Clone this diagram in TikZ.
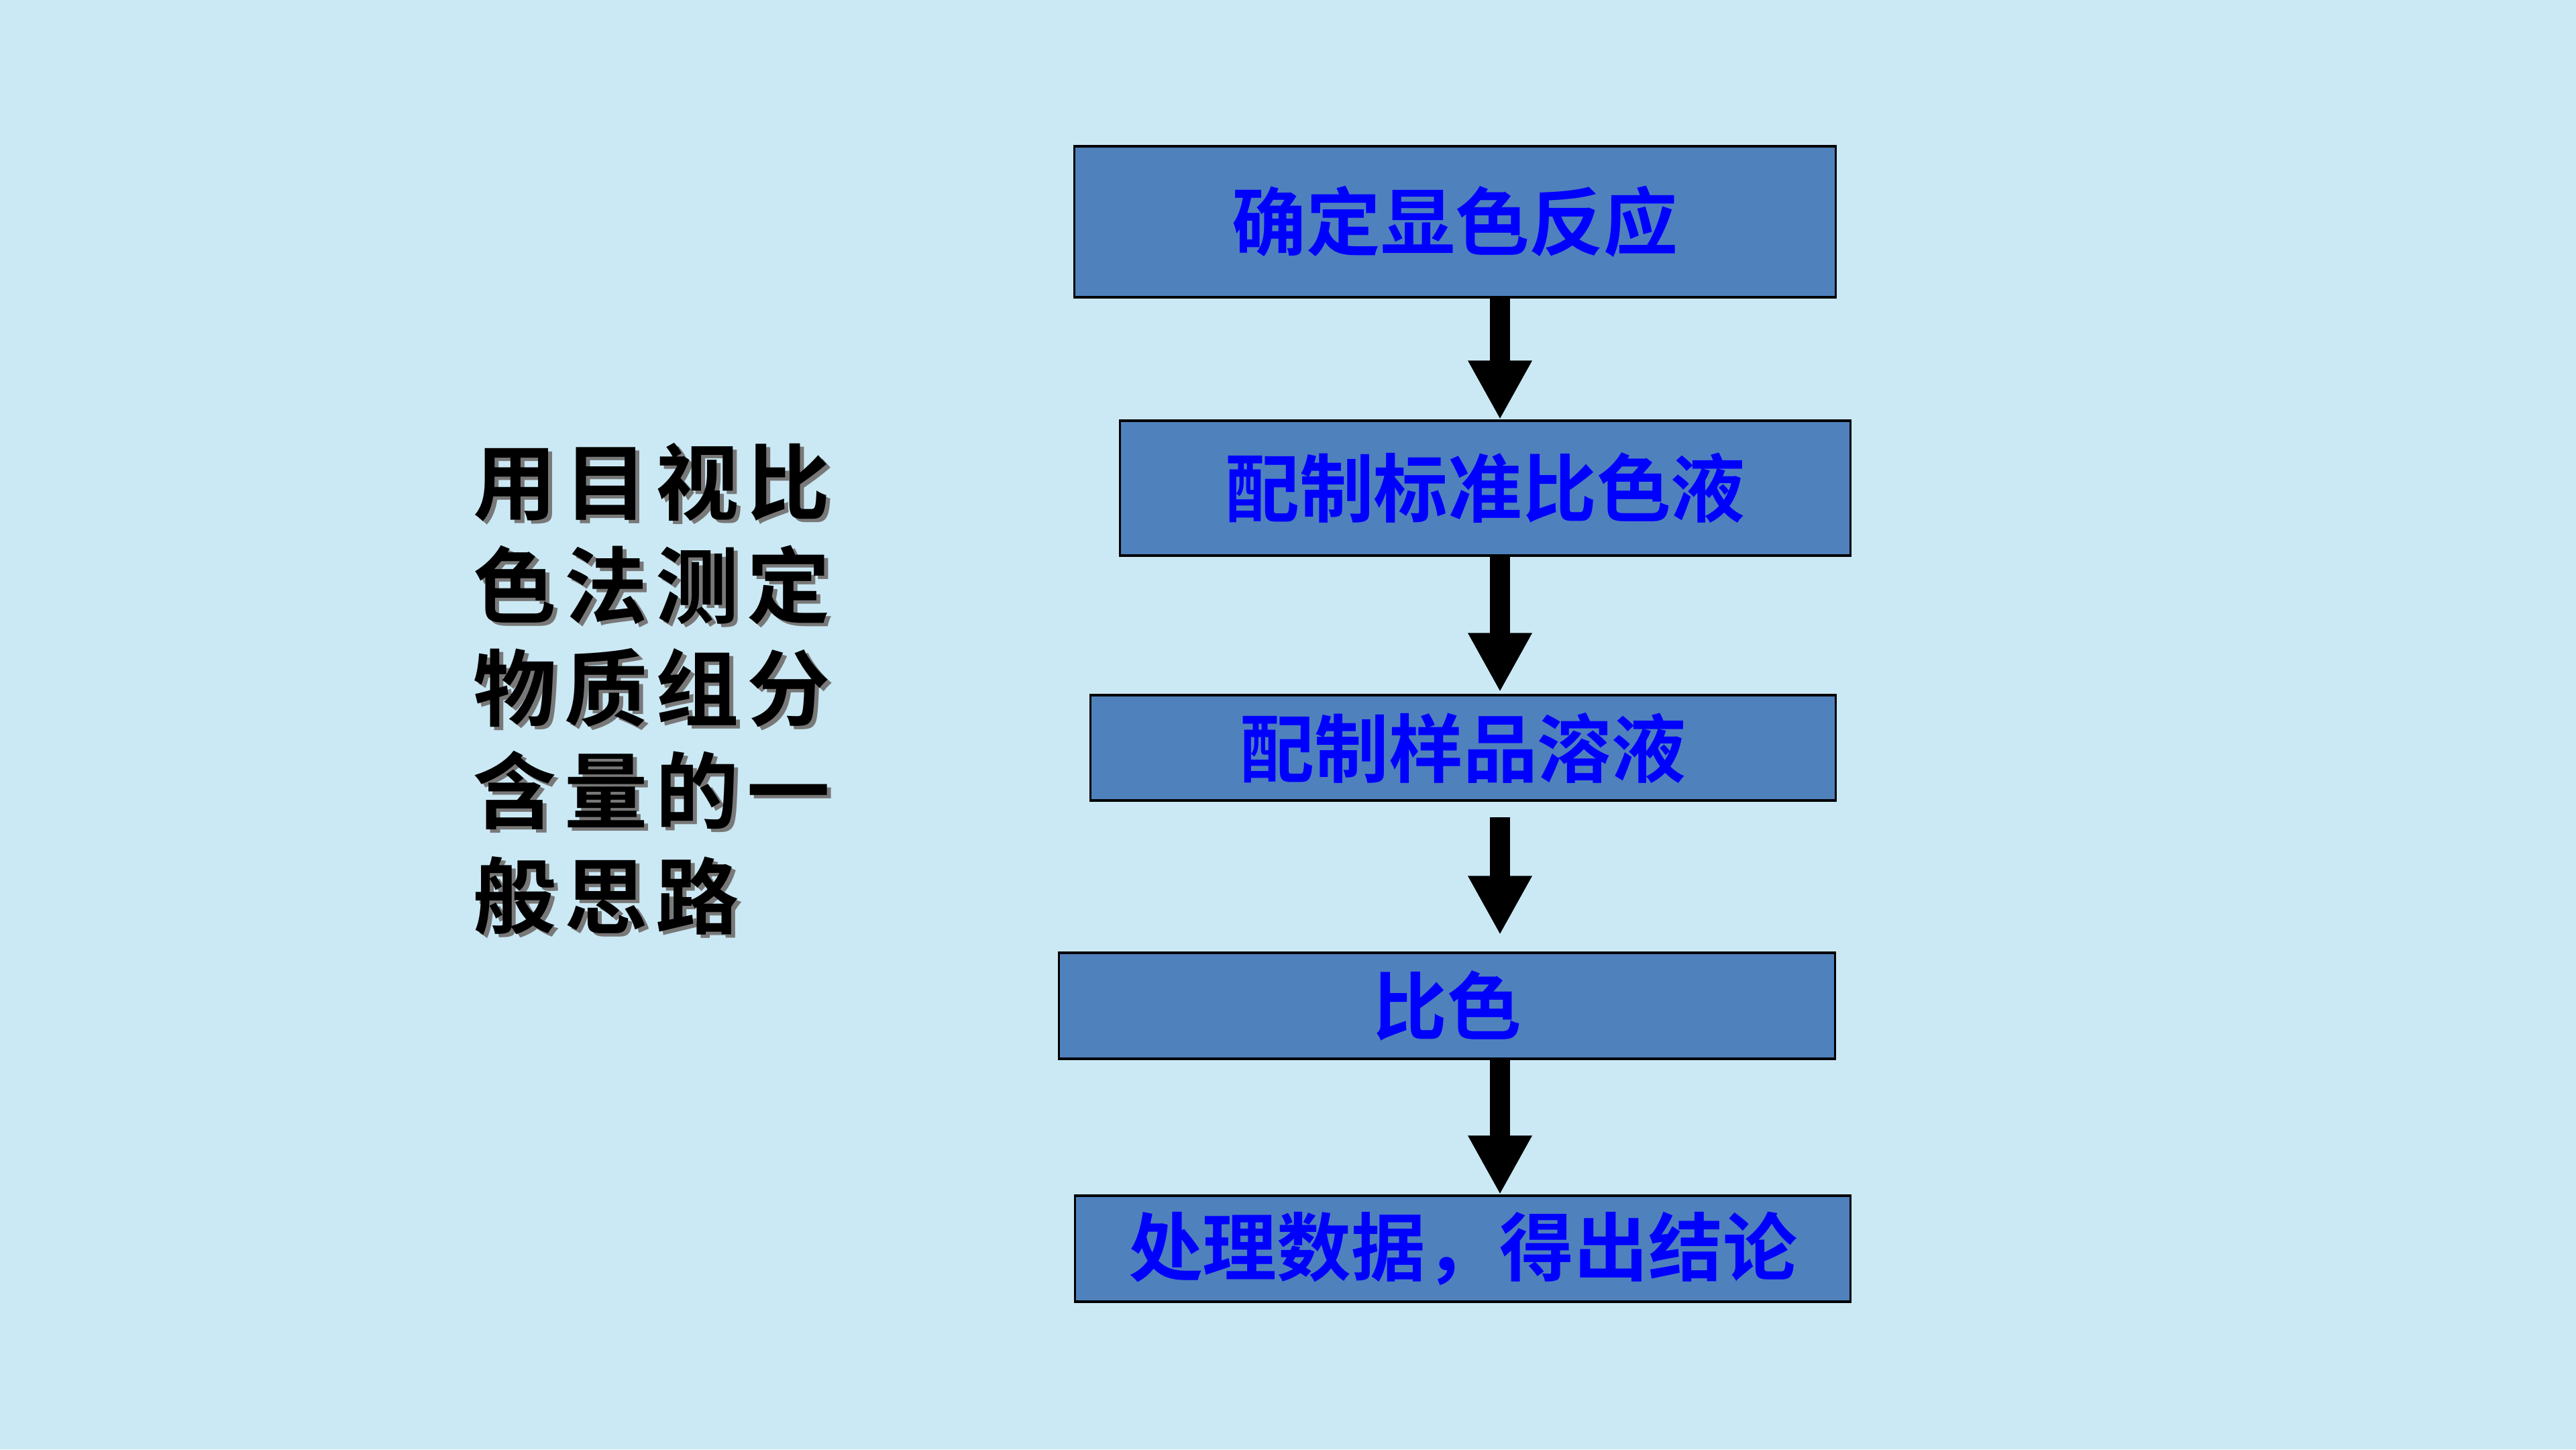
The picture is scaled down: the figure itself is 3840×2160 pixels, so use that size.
\documentclass[tikz,border=0pt]{standalone}
\usepackage{fontspec}
\usetikzlibrary{arrows.meta,calc}
\newfontfamily\cjkbold[BoldFont={* Bold}]{Noto Sans CJK SC}
\definecolor{bgblue}{RGB}{203,233,244}
\definecolor{boxblue}{RGB}{79,129,189}
\definecolor{txtblue}{RGB}{0,0,255}
\definecolor{shadowgrey}{RGB}{120,120,120}
\newcommand{\cjkgap}{\kern 3.4pt}
\tikzset{
  stepbox/.style={draw=black, line width=0.9pt, fill=boxblue, inner sep=0pt,
    text=txtblue, font=\cjkbold\bfseries\fontsize{31.5pt}{36pt}\selectfont},
  flowarrow/.style={line width=8.5pt, -{Triangle[width=25.3pt,length=25pt]}},
  lefttext/.style={anchor=west, inner sep=0pt, text=black,
    font=\cjkbold\bfseries\fontsize{35.3pt}{40pt}\selectfont},
  leftshadow/.style={lefttext, text=shadowgrey}
}
\begin{document}
\begin{tikzpicture}[x=0.01cm,y=-0.01cm]
\fill[bgblue] (0,0) rectangle (3840,2160);
\useasboundingbox (0,0) rectangle (3840,2160);

% flow boxes
\node[stepbox, minimum width=11.34cm, minimum height=2.25cm] (b1) at (2169,330.5) {确定显色反应};
\node[stepbox, minimum width=10.88cm, minimum height=2.01cm] (b2) at (2214,727.5) {配制标准比色液};
\node[stepbox, minimum width=11.10cm, minimum height=1.57cm] (b3) at (2181,1114.5) {配制样品溶液};
\node[stepbox, minimum width=11.56cm, minimum height=1.58cm] (b4) at (2157,1499) {比色};
\node[stepbox, minimum width=11.55cm, minimum height=1.58cm] (b5) at (2180.5,1861) {处理数据，得出结论};

% arrows
\coordinate (ax) at (2236,0);
\draw[flowarrow] (b1.south -| ax) -- (b2.north -| ax);
\draw[flowarrow] (b2.south -| ax) -- ($(b3.north -| ax)+(0,-3)$);
\draw[flowarrow] ($(b3.south -| ax)+(0,23)$) -- ($(b4.north -| ax)+(0,-25)$);
\draw[flowarrow] (b4.south -| ax) -- (b5.north -| ax);

% left title with shadow
\node[leftshadow] (s1) at (711,724) {用\cjkgap 目\cjkgap 视\cjkgap 比};
\node[leftshadow] (s2) at (711,877) {色\cjkgap 法\cjkgap 测\cjkgap 定};
\node[leftshadow] (s3) at (711,1030) {物\cjkgap 质\cjkgap 组\cjkgap 分};
\node[leftshadow] (s4) at (711,1183) {含\cjkgap 量\cjkgap 的\cjkgap 一};
\node[leftshadow] (s5) at (711,1340) {般\cjkgap 思\cjkgap 路};
\node[lefttext] (l1) at (705,719) {用\cjkgap 目\cjkgap 视\cjkgap 比};
\node[lefttext] (l2) at (705,872) {色\cjkgap 法\cjkgap 测\cjkgap 定};
\node[lefttext] (l3) at (705,1025) {物\cjkgap 质\cjkgap 组\cjkgap 分};
\node[lefttext] (l4) at (705,1178) {含\cjkgap 量\cjkgap 的\cjkgap 一};
\node[lefttext] (l5) at (705,1335) {般\cjkgap 思\cjkgap 路};
\end{tikzpicture}
\end{document}
